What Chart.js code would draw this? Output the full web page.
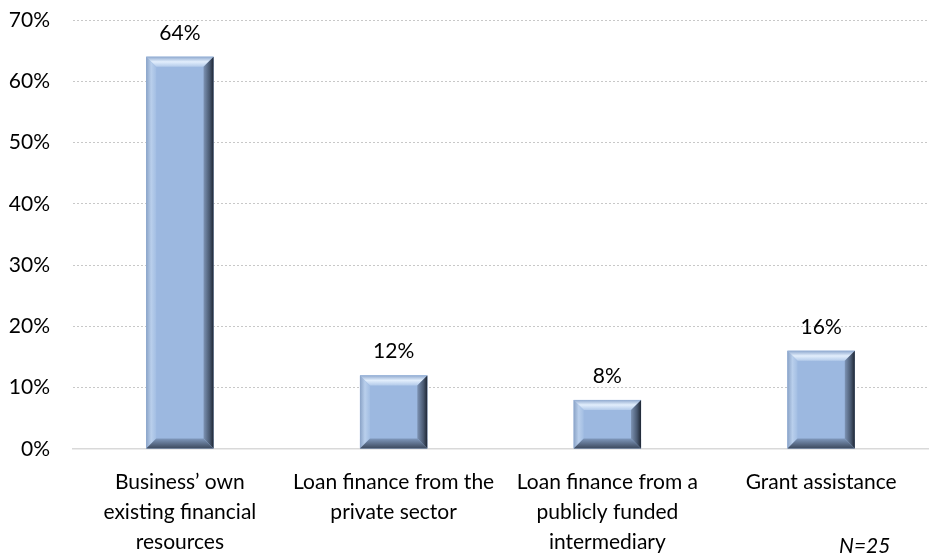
<!DOCTYPE html>
<html lang="en">
<head>
    <meta charset="UTF-8">
    <title>Sources of finance</title>
    <script src="https://cdn.jsdelivr.net/npm/chart.js"></script>
    <style>
        body { margin: 0; background: #fff; }
        #wrap { position: relative; width: 929px; height: 557px; }
        #note { position: absolute; left: 839px; top: 532px; font: italic 21px Lato, sans-serif; color: #000; }
    </style>
</head>
<body>
    <div id="wrap">
        <canvas id="myChart" width="929" height="557"></canvas>
        <div id="note">N=25</div>
    </div>

    <script>
        const categories = [
            ['Business\u2019 own', 'existing financial', 'resources'],
            ['Loan finance from the', 'private sector'],
            ['Loan finance from a', 'publicly funded', 'intermediary'],
            ['Grant assistance']
        ];
        const shares = [64, 12, 8, 16];
        const yTicks = [0, 10, 20, 30, 40, 50, 60, 70];

        const FONT = 'Lato, sans-serif';

        // bevelled bar faces, drawn on top of each bar rect
        const bevelBars = {
            id: 'bevelBars',
            afterDatasetsDraw(chart) {
                const ctx = chart.ctx;
                chart.getDatasetMeta(0).data.forEach(bar => {
                    const p = bar.getProps(['x', 'y', 'base', 'width'], true);
                    const l = p.x - p.width / 2, r = p.x + p.width / 2;
                    const t = p.y, b = p.base;
                    const s = Math.min(10, (b - t) / 2);
                    ctx.save();

                    ctx.fillStyle = '#9cb8e0';
                    ctx.fillRect(l, t, r - l, b - t);

                    // top face
                    let g = ctx.createLinearGradient(0, t, 0, t + s);
                    g.addColorStop(0, '#8fa9cf');
                    g.addColorStop(0.5, '#e2eefc');
                    g.addColorStop(1, '#b4cbea');
                    ctx.fillStyle = g;
                    ctx.beginPath();
                    ctx.moveTo(l, t); ctx.lineTo(r, t); ctx.lineTo(r - s, t + s); ctx.lineTo(l + s, t + s);
                    ctx.closePath(); ctx.fill();

                    // left face
                    g = ctx.createLinearGradient(l, 0, l + s, 0);
                    g.addColorStop(0, '#8aa3c7');
                    g.addColorStop(0.5, '#b9cfec');
                    g.addColorStop(1, '#a3bee3');
                    ctx.fillStyle = g;
                    ctx.beginPath();
                    ctx.moveTo(l, t); ctx.lineTo(l + s, t + s); ctx.lineTo(l + s, b - s); ctx.lineTo(l, b);
                    ctx.closePath(); ctx.fill();

                    // right face
                    g = ctx.createLinearGradient(r - s, 0, r, 0);
                    g.addColorStop(0, '#7d93b4');
                    g.addColorStop(0.6, '#4a5a72');
                    g.addColorStop(1, '#1e2633');
                    ctx.fillStyle = g;
                    ctx.beginPath();
                    ctx.moveTo(r, t); ctx.lineTo(r, b); ctx.lineTo(r - s, b - s); ctx.lineTo(r - s, t + s);
                    ctx.closePath(); ctx.fill();

                    // bottom face
                    g = ctx.createLinearGradient(0, b - s, 0, b);
                    g.addColorStop(0, '#8099bd');
                    g.addColorStop(1, '#3d4a5e');
                    ctx.fillStyle = g;
                    ctx.beginPath();
                    ctx.moveTo(l, b); ctx.lineTo(r, b); ctx.lineTo(r - s, b - s); ctx.lineTo(l + s, b - s);
                    ctx.closePath(); ctx.fill();

                    ctx.restore();
                });
            }
        };

        const valueLabels = {
            id: 'valueLabels',
            afterDatasetsDraw(chart) {
                const ctx = chart.ctx;
                ctx.save();
                ctx.font = '21px ' + FONT;
                ctx.fillStyle = '#000';
                ctx.textAlign = 'center';
                ctx.textBaseline = 'middle';
                chart.getDatasetMeta(0).data.forEach((bar, i) => {
                    ctx.fillText(shares[i] + '%', bar.x, bar.y - 24);
                });
                ctx.restore();
            }
        };

        const myChart = new Chart(document.getElementById('myChart'), {
            type: 'bar',
            data: {
                labels: categories,
                datasets: [{
                    data: shares,
                    backgroundColor: '#9cb8e0',
                    categoryPercentage: 1,
                    barPercentage: 0.315
                }]
            },
            options: {
                responsive: false,
                animation: false,
                layout: { padding: { top: 0, right: 1, left: 0, bottom: -10 } },
                plugins: { legend: { display: false }, tooltip: { enabled: false } },
                scales: {
                    x: {
                        grid: { display: false },
                        border: { display: true, color: '#d9d9d9', width: 1.5 },
                        ticks: {
                            color: '#000',
                            font: { family: FONT, size: 21, lineHeight: 1.43 },
                            padding: 10,
                            maxRotation: 0
                        }
                    },
                    y: {
                        min: 0,
                        max: 70,
                        afterBuildTicks(axis) { axis.ticks = yTicks.map(v => ({ value: v })); },
                        afterFit(axis) {
                            axis.width = 73;
                            axis.paddingTop = 20;
                            axis.paddingBottom = 12;
                        },
                        border: { display: false, dash: [2, 2] },
                        grid: { color: '#c8c8c8', drawTicks: false },
                        ticks: {
                            color: '#000',
                            font: { family: FONT, size: 21 },
                            padding: 23,
                            callback: v => v + '%'
                        }
                    }
                }
            },
            plugins: [bevelBars, valueLabels]
        });
    </script>
</body>
</html>
